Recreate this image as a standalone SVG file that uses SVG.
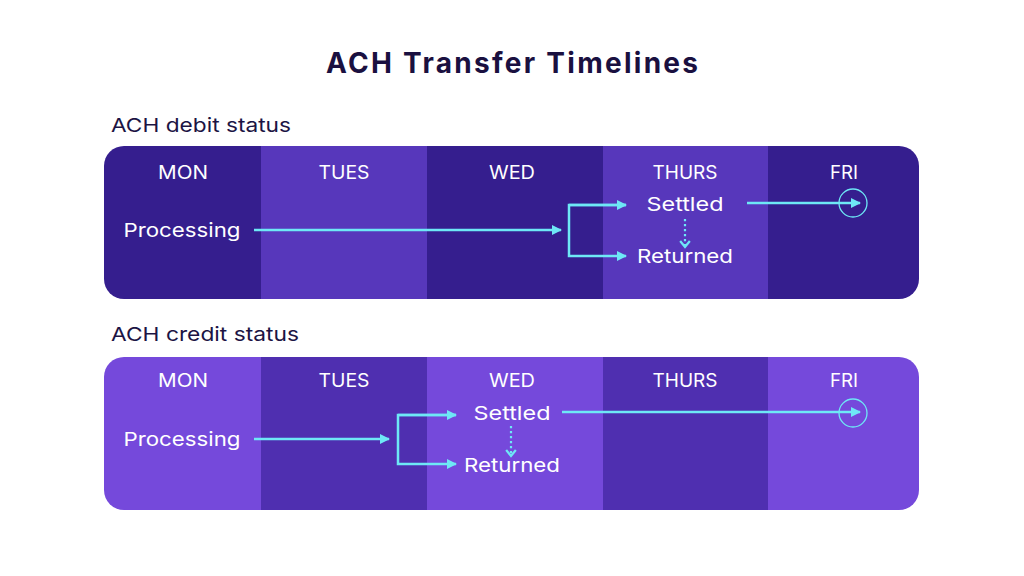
<svg xmlns="http://www.w3.org/2000/svg" width="1024" height="576" viewBox="0 0 1024 576">
<defs>
<style>
text{font-family:"Inter","Noto Sans",sans-serif}
.t{fill:#fff;font-size:19px;text-anchor:middle;dominant-baseline:central}
.day{font-size:18px}
.lbl{fill:#1c1444;font-size:19px;dominant-baseline:central}
.ln{fill:none;stroke:#6ee8f6;stroke-width:2.5}
.dot{fill:none;stroke:#6ee8f6;stroke-width:2.2;stroke-dasharray:2.2 2.8}
.ring{fill:none;stroke:#6ee8f6;stroke-width:1.3}
</style>
<marker id="ah" viewBox="0 0 10 10" refX="9" refY="5" markerWidth="4" markerHeight="4" orient="auto" markerUnits="strokeWidth">
<path d="M0,0 L10,5 L0,10 z" fill="#6ee8f6"/>
</marker>
<marker id="chev" viewBox="0 0 10 10" refX="8" refY="5" markerWidth="5.5" markerHeight="5.5" orient="auto" markerUnits="strokeWidth">
<path d="M3,1 L8,5 L3,9" fill="none" stroke="#6ee8f6" stroke-width="1.8"/>
</marker>
<clipPath id="c1"><rect x="104" y="146" width="815" height="153" rx="20"/></clipPath>
<clipPath id="c2"><rect x="104" y="357" width="815" height="153" rx="20"/></clipPath>
</defs>
<rect width="1024" height="576" fill="#fff"/>
<text x="512" y="63" font-weight="700" font-size="28" fill="#1a1040" text-anchor="middle" dominant-baseline="central" textLength="372" lengthAdjust="spacing">ACH Transfer Timelines</text>
<text class="lbl" x="111" y="125" textLength="180" lengthAdjust="spacingAndGlyphs">ACH debit status</text>
<text class="lbl" x="111" y="334" textLength="188" lengthAdjust="spacingAndGlyphs">ACH credit status</text>

<g id="debit-panel">
<g clip-path="url(#c1)">
<rect x="104" y="146" width="157" height="153" fill="#351e8e"/>
<rect x="261" y="146" width="166" height="153" fill="#5737bb"/>
<rect x="427" y="146" width="176" height="153" fill="#351e8e"/>
<rect x="603" y="146" width="165" height="153" fill="#5737bb"/>
<rect x="768" y="146" width="151" height="153" fill="#351e8e"/>
</g>
<text class="t day" x="183" y="172" textLength="50" lengthAdjust="spacingAndGlyphs">MON</text>
<text class="t day" x="344" y="172" textLength="51" lengthAdjust="spacingAndGlyphs">TUES</text>
<text class="t day" x="512" y="172" textLength="46" lengthAdjust="spacingAndGlyphs">WED</text>
<text class="t day" x="685" y="172" textLength="65" lengthAdjust="spacingAndGlyphs">THURS</text>
<text class="t day" x="844" y="172" textLength="28" lengthAdjust="spacingAndGlyphs">FRI</text>
</g>
<g id="debit-processing"><text class="t" x="182" y="230" textLength="117" lengthAdjust="spacingAndGlyphs">Processing</text></g>
<g id="debit-settled"><text class="t" x="685" y="204" textLength="77" lengthAdjust="spacingAndGlyphs">Settled</text></g>
<g id="debit-returned"><text class="t" x="685" y="256" textLength="96" lengthAdjust="spacingAndGlyphs">Returned</text></g>
<g id="debit-fri"><circle class="ring" cx="853" cy="203" r="14"/></g>

<g id="credit-panel">
<g clip-path="url(#c2)">
<rect x="104" y="357" width="157" height="153" fill="#7549db"/>
<rect x="261" y="357" width="166" height="153" fill="#4f2fb0"/>
<rect x="427" y="357" width="176" height="153" fill="#7549db"/>
<rect x="603" y="357" width="165" height="153" fill="#4f2fb0"/>
<rect x="768" y="357" width="151" height="153" fill="#7549db"/>
</g>
<text class="t day" x="183" y="380" textLength="50" lengthAdjust="spacingAndGlyphs">MON</text>
<text class="t day" x="344" y="380" textLength="51" lengthAdjust="spacingAndGlyphs">TUES</text>
<text class="t day" x="512" y="380" textLength="46" lengthAdjust="spacingAndGlyphs">WED</text>
<text class="t day" x="685" y="380" textLength="65" lengthAdjust="spacingAndGlyphs">THURS</text>
<text class="t day" x="844" y="380" textLength="28" lengthAdjust="spacingAndGlyphs">FRI</text>
</g>
<g id="credit-processing"><text class="t" x="182" y="439" textLength="117" lengthAdjust="spacingAndGlyphs">Processing</text></g>
<g id="credit-settled"><text class="t" x="512" y="413" textLength="77" lengthAdjust="spacingAndGlyphs">Settled</text></g>
<g id="credit-returned"><text class="t" x="512" y="465" textLength="96" lengthAdjust="spacingAndGlyphs">Returned</text></g>
<g id="credit-fri"><circle class="ring" cx="853" cy="413" r="14"/></g>

<g id="connectors">
<line class="ln" x1="254" y1="230" x2="561" y2="230" marker-end="url(#ah)"/>
<path class="ln" d="M626,205 H569 V256 H626" marker-end="url(#ah)"/>
<line class="ln" x1="569" y1="205" x2="626" y2="205" marker-end="url(#ah)"/>
<line class="dot" x1="685" y1="219" x2="685" y2="247" marker-end="url(#chev)"/>
<line class="ln" x1="747" y1="203" x2="860" y2="203" marker-end="url(#ah)"/>

<line class="ln" x1="254" y1="439" x2="389" y2="439" marker-end="url(#ah)"/>
<path class="ln" d="M456,415 H398 V464 H456" marker-end="url(#ah)"/>
<line class="ln" x1="398" y1="415" x2="456" y2="415" marker-end="url(#ah)"/>
<line class="dot" x1="511" y1="426" x2="511" y2="456" marker-end="url(#chev)"/>
<line class="ln" x1="562" y1="412" x2="860" y2="412" marker-end="url(#ah)"/>
</g>
</svg>
